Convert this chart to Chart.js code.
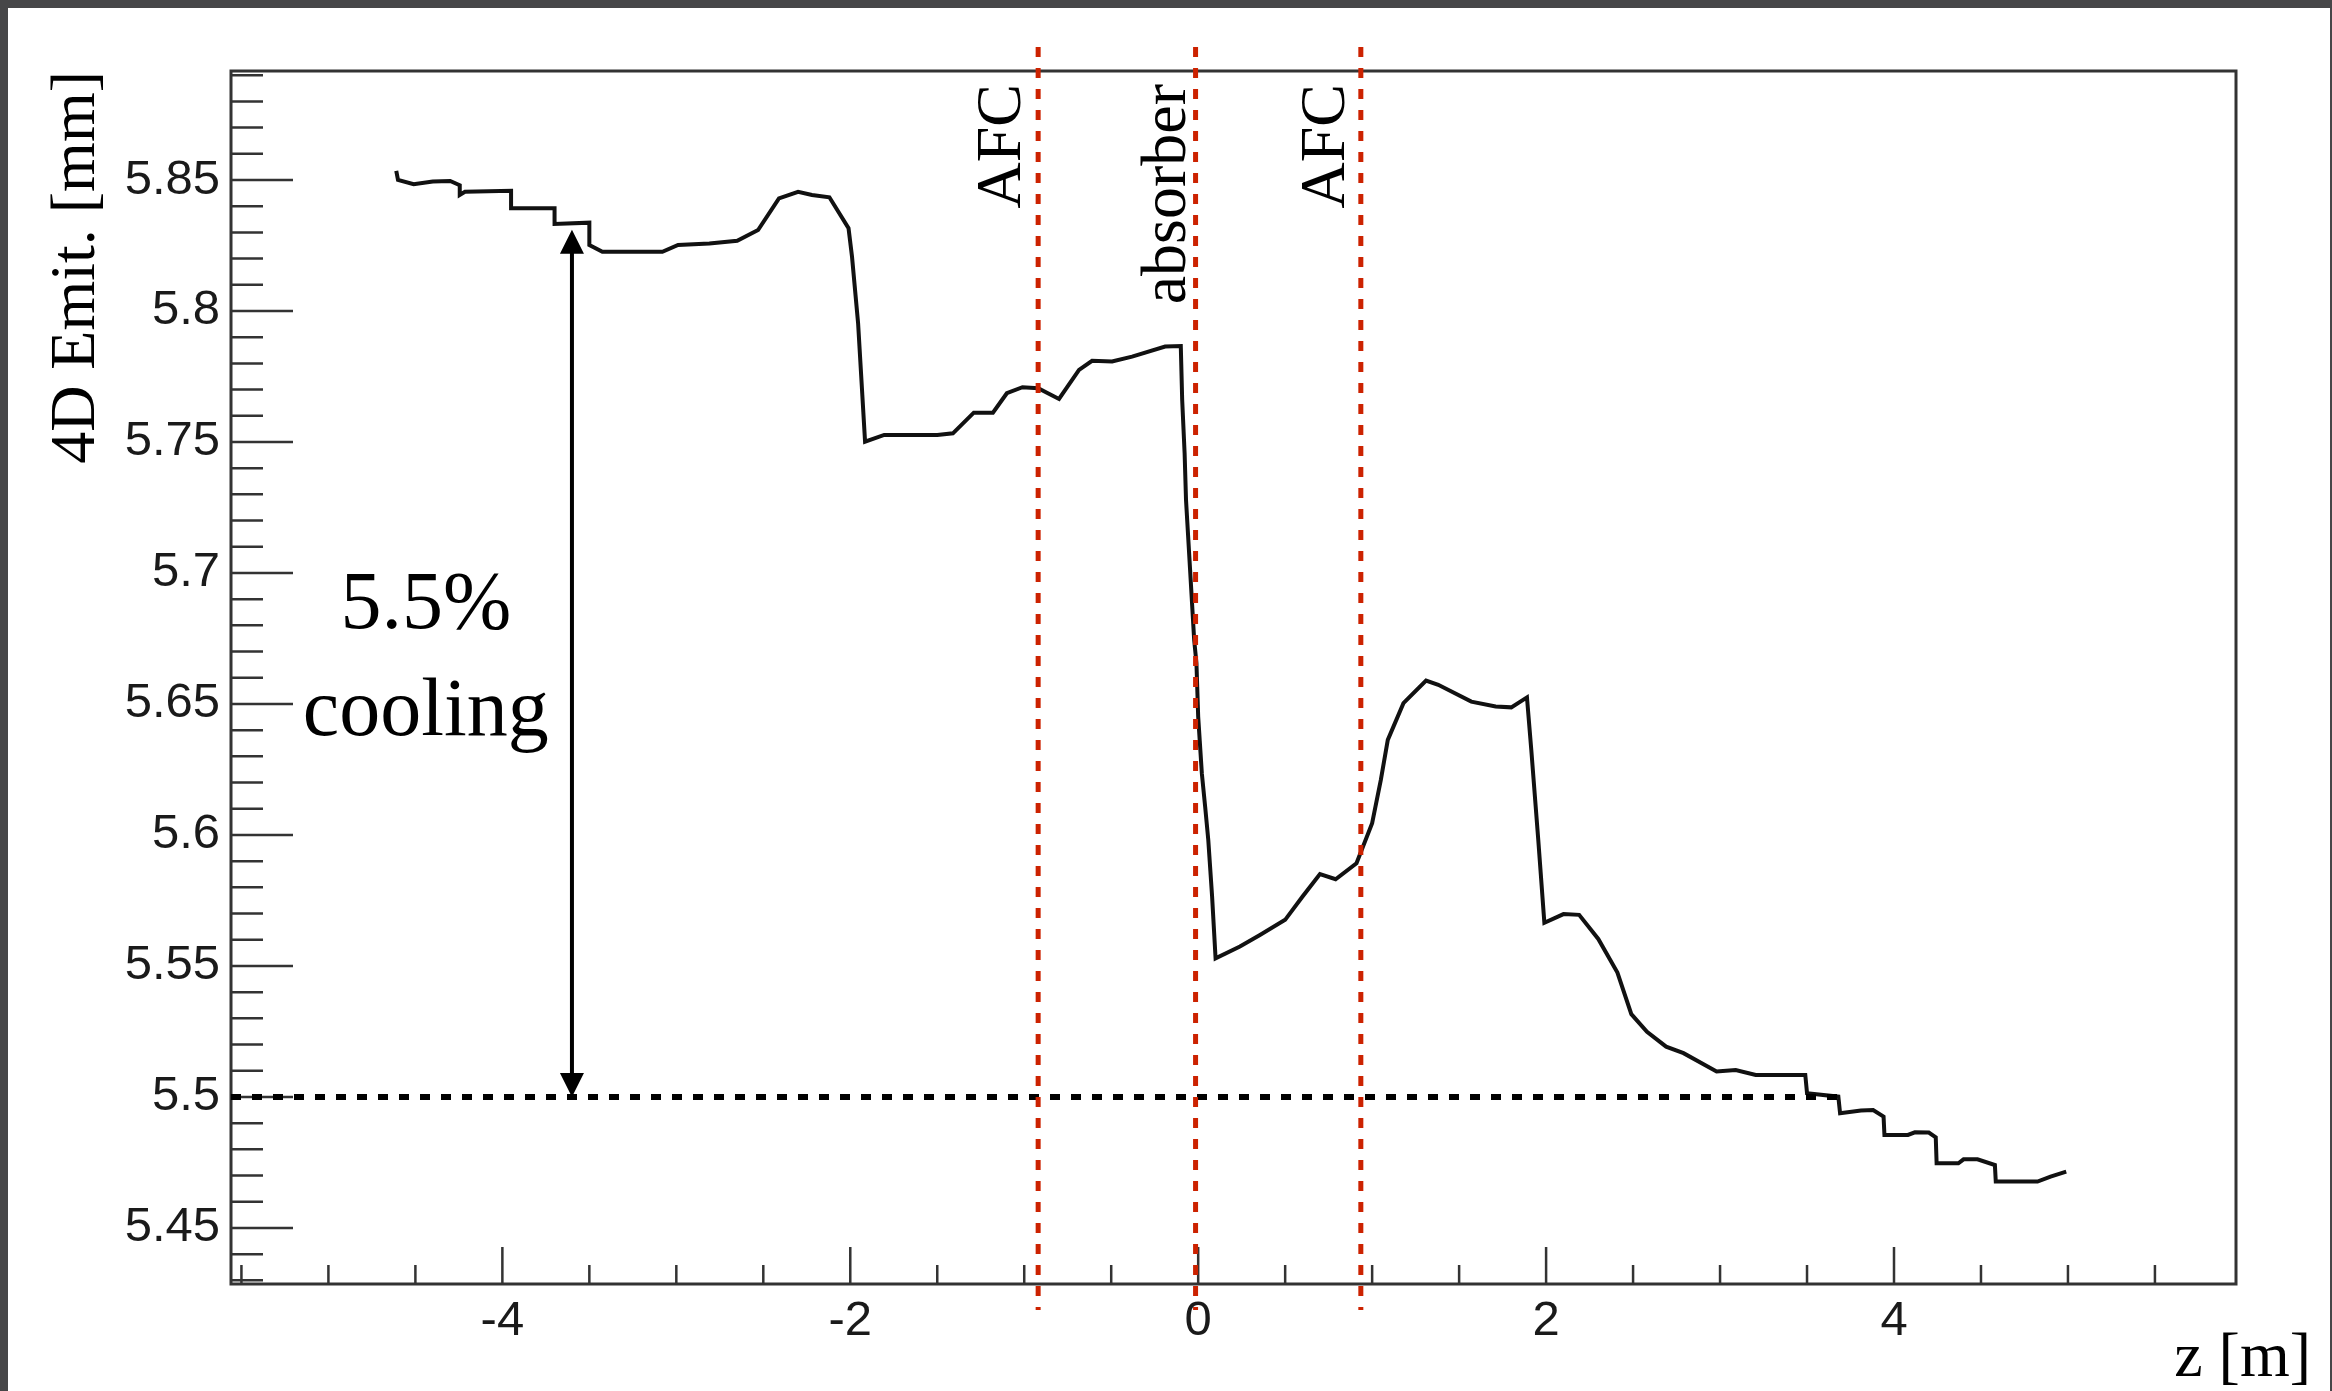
<!DOCTYPE html>
<html>
<head>
<meta charset="utf-8">
<title>4D emittance along z</title>
<script src="https://cdn.jsdelivr.net/npm/chart.js@4.4.1/dist/chart.umd.min.js"></script>
<style>
  html, body { margin: 0; padding: 0; background: #464648; }
  canvas { display: block; }
</style>
</head>
<body>
<canvas id="emit-chart" width="2332" height="1391"></canvas>
<script>
// z position [m] and 4D emittance [mm]
const zPos = [
    -4.61, -4.60, -4.51, -4.40, -4.30, -4.245, -4.245, -4.215, -3.95, -3.95,
    -3.70, -3.70, -3.50, -3.50, -3.425, -3.08, -2.99, -2.81, -2.65, -2.53,
    -2.41, -2.30, -2.22, -2.12, -2.01, -1.99, -1.955, -1.915, -1.805, -1.50,
    -1.41, -1.29, -1.18, -1.10, -1.01, -0.92, -0.80, -0.685, -0.61, -0.495,
    -0.38, -0.19, -0.10, -0.092, -0.078, -0.07, -0.023, -0.01, 0.00, 0.021,
    0.04, 0.058, 0.08, 0.10, 0.24, 0.355, 0.50, 0.60, 0.70, 0.79,
    0.91, 1.00, 1.05, 1.09, 1.18, 1.31, 1.38, 1.57, 1.71, 1.80,
    1.89, 1.915, 1.955, 1.99, 2.10, 2.19, 2.30, 2.41, 2.49, 2.58,
    2.69, 2.79, 2.98, 3.09, 3.205, 3.49, 3.50, 3.68, 3.69, 3.81,
    3.88, 3.94, 3.945, 4.08, 4.12, 4.20, 4.24, 4.245, 4.37, 4.40,
    4.48, 4.58, 4.585, 4.825, 4.90, 4.99
];
const emit = [
    5.8535, 5.8500, 5.8484, 5.8494, 5.8496, 5.8480, 5.8443, 5.8455, 5.8459, 5.8392,
    5.8392, 5.8332, 5.8337, 5.8252, 5.8226, 5.8226, 5.8252, 5.8258, 5.8268, 5.8309,
    5.8430, 5.8455, 5.8443, 5.8434, 5.8316, 5.8207, 5.7953, 5.7501, 5.7527, 5.7527,
    5.7533, 5.7612, 5.7612, 5.7686, 5.7709, 5.7705, 5.7664, 5.7775, 5.7810, 5.7807,
    5.7826, 5.7864, 5.7866, 5.7660, 5.7457, 5.7279, 5.6744, 5.6655, 5.6452, 5.6235,
    5.6108, 5.5981, 5.5765, 5.5529, 5.5574, 5.5618, 5.5676, 5.5765, 5.5851, 5.5831,
    5.5892, 5.6045, 5.6210, 5.6363, 5.6503, 5.6589, 5.6573, 5.6509, 5.6490, 5.6487,
    5.6525, 5.6324, 5.5981, 5.5665, 5.5698, 5.5695, 5.5603, 5.5475, 5.5316, 5.5249,
    5.5192, 5.5167, 5.5097, 5.5103, 5.5084, 5.5084, 5.5014, 5.5001, 5.4938, 5.4948,
    5.4950, 5.4925, 5.4855, 5.4855, 5.4865, 5.4864, 5.4846, 5.4747, 5.4747, 5.4762,
    5.4762, 5.4740, 5.4677, 5.4677, 5.4696, 5.4715
];

const xTicks = [-4, -2, 0, 2, 4];
const yTicks = [5.45, 5.5, 5.55, 5.6, 5.65, 5.7, 5.75, 5.8, 5.85];

// absorber focus coils and absorber positions [m]
const markerZ = [-0.92, -0.015, 0.935];
const markerLabels = ['AFC', 'absorber', 'AFC'];

// 5.5% cooling arrow
const coolingLevel = 5.5;
const arrowZ = -3.6;
const arrowTop = 5.831;
const coolingEndZ = 3.69;

const serif = '"Liberation Serif", "Times New Roman", serif';
const sans = '"Liberation Sans", Arial, sans-serif';

const decorations = {
    id: 'decorations',
    beforeDraw(chart) {
        const ctx = chart.ctx;
        ctx.save();
        ctx.fillStyle = '#464648';
        ctx.fillRect(0, 0, chart.width, chart.height);
        ctx.fillStyle = '#ffffff';
        ctx.fillRect(8, 8, chart.width - 10, chart.height - 8);
        ctx.restore();
    },
    afterDatasetsDraw(chart) {
        const { ctx, chartArea: a, scales: { x, y } } = chart;
        ctx.save();

        // frame
        ctx.strokeStyle = '#333';
        ctx.lineWidth = 3;
        ctx.strokeRect(a.left, a.top, a.right - a.left, a.bottom - a.top);

        // ROOT style ticks, pointing inside, left and bottom only
        ctx.lineWidth = 2.5;
        ctx.beginPath();
        for (let k = 543; k <= 589; k++) {
            const py = y.getPixelForValue(k / 100);
            ctx.moveTo(a.left, py);
            ctx.lineTo(a.left + (k % 5 === 0 ? 62 : 32), py);
        }
        for (let k = -11; k <= 11; k++) {
            const px = x.getPixelForValue(k / 2);
            ctx.moveTo(px, a.bottom);
            ctx.lineTo(px, a.bottom - (k % 4 === 0 ? 37 : 19));
        }
        ctx.stroke();

        // dotted line at the final emittance
        const yCool = y.getPixelForValue(coolingLevel);
        ctx.strokeStyle = '#000';
        ctx.lineWidth = 6;
        ctx.setLineDash([10, 11]);
        ctx.beginPath();
        ctx.moveTo(a.left, yCool);
        ctx.lineTo(x.getPixelForValue(coolingEndZ), yCool);
        ctx.stroke();

        // double arrow
        const ax = x.getPixelForValue(arrowZ);
        const yTop = y.getPixelForValue(arrowTop);
        const head = 24;
        ctx.setLineDash([]);
        ctx.lineWidth = 4;
        ctx.beginPath();
        ctx.moveTo(ax, yTop + head - 2);
        ctx.lineTo(ax, yCool - head + 2);
        ctx.stroke();
        ctx.fillStyle = '#000';
        ctx.beginPath();
        ctx.moveTo(ax, yTop);
        ctx.lineTo(ax - head / 2, yTop + head);
        ctx.lineTo(ax + head / 2, yTop + head);
        ctx.closePath();
        ctx.moveTo(ax, yCool);
        ctx.lineTo(ax - head / 2, yCool - head);
        ctx.lineTo(ax + head / 2, yCool - head);
        ctx.closePath();
        ctx.fill();

        // cooling text
        const tx = x.getPixelForValue(-4.44);
        ctx.font = '82px ' + serif;
        ctx.textAlign = 'center';
        ctx.textBaseline = 'alphabetic';
        ctx.fillText('5.5%', tx, y.getPixelForValue(5.679));
        ctx.fillText('cooling', tx, y.getPixelForValue(5.638));

        // red dashed markers
        ctx.strokeStyle = '#cc2200';
        ctx.lineWidth = 5;
        ctx.setLineDash([10, 11]);
        ctx.beginPath();
        markerZ.forEach(z => {
            const px = x.getPixelForValue(z);
            ctx.moveTo(px, a.top - 24);
            ctx.lineTo(px, a.bottom + 26);
        });
        ctx.stroke();

        // marker labels, rotated
        const labelShift = [-18, -11, -17];
        ctx.font = '64px ' + serif;
        ctx.textAlign = 'right';
        markerLabels.forEach((t, i) => {
            ctx.save();
            ctx.translate(x.getPixelForValue(markerZ[i]) + labelShift[i], a.top + 13);
            ctx.rotate(-Math.PI / 2);
            ctx.fillText(t, 0, 0);
            ctx.restore();
        });

        // x axis title
        ctx.textAlign = 'right';
        ctx.fillText('z [m]', a.right + 75, a.bottom + 92);

        ctx.restore();
    }
};

new Chart(document.getElementById('emit-chart'), {
    type: 'line',
    data: {
        datasets: [{
            data: zPos.map((z, i) => ({ x: z, y: emit[i] })),
            borderColor: '#111',
            borderWidth: 4,
            pointRadius: 0,
            tension: 0,
            fill: false
        }]
    },
    options: {
        responsive: false,
        devicePixelRatio: 1,
        animation: false,
        layout: { padding: { top: 71, right: 96, left: 0, bottom: 0 } },
        plugins: {
            legend: { display: false },
            tooltip: { enabled: false }
        },
        scales: {
            x: {
                type: 'linear',
                min: -5.56,
                max: 5.966,
                grid: { display: false, drawTicks: false },
                border: { display: false },
                afterBuildTicks: (s) => { s.ticks = xTicks.map(v => ({ value: v })); },
                afterFit: (s) => { s.height = 107; },
                ticks: {
                    padding: 8,
                    color: '#1a1a1a',
                    maxRotation: 0,
                    font: { family: sans, size: 49 },
                    callback: (v) => String(v)
                }
            },
            y: {
                type: 'linear',
                min: 5.4286,
                max: 5.8916,
                grid: { display: false, drawTicks: false },
                border: { display: false },
                afterBuildTicks: (s) => { s.ticks = yTicks.map(v => ({ value: v })); },
                afterFit: (s) => { s.width = 231; },
                ticks: {
                    padding: 11,
                    color: '#1a1a1a',
                    font: { family: sans, size: 49 },
                    callback: (v) => String(v)
                },
                title: {
                    display: true,
                    text: '4D Emit. [mm]',
                    align: 'end',
                    color: '#000',
                    font: { family: serif, size: 64 },
                    padding: { top: 39, bottom: 0 }
                }
            }
        }
    },
    plugins: [decorations]
});
</script>
</body>
</html>
